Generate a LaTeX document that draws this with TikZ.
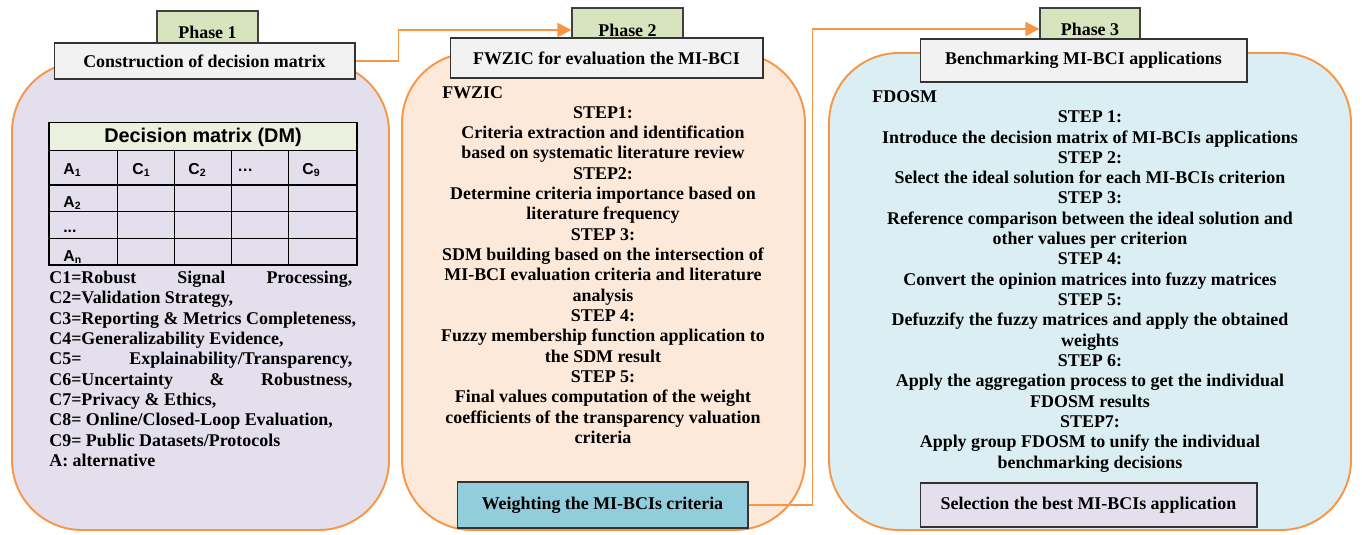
\documentclass[tikz,border=0pt]{standalone}
\usepackage{fontspec}
\setmainfont{Liberation Serif}
\newfontfamily\dmfont{Liberation Sans}
\usetikzlibrary{arrows.meta}

\definecolor{lineorange}{HTML}{F79646}
\definecolor{lavender}{HTML}{E4DFEC}
\definecolor{peach}{HTML}{FDE9D9}
\definecolor{paleblue}{HTML}{DAEEF3}
\definecolor{tabgreen}{HTML}{D7E4BD}
\definecolor{titlegray}{HTML}{F2F2F2}
\definecolor{hdrgreen}{HTML}{EBF1DE}
\definecolor{resultblue}{HTML}{92CDDC}

\tikzset{
  body/.style={font=\fontsize{10.2pt}{11.57pt}\selectfont\bfseries, inner sep=0pt},
  panel/.style={draw=lineorange, line width=1.1pt, rounded corners=1.4cm},
  phasetab/.style={draw=black!75, fill=tabgreen, line width=0.6pt, body},
  titlebox/.style={draw=black!80, fill=titlegray, line width=0.6pt, body},
  cell/.style={font=\dmfont\fontsize{9pt}{10pt}\selectfont\bfseries, inner sep=0pt, anchor=west},
  flow/.style={draw=lineorange, line width=1.1pt, -{Triangle[length=8pt,width=8pt]}},
}

\begin{document}
\begin{tikzpicture}[x=0.02cm, y=-0.02cm]
  \useasboundingbox (0,0) rectangle (1362,534);

  % the three phase panels
  \draw[panel, fill=lavender] (12,62) rectangle (389,530);
  \draw[panel, fill=peach] (402,53) rectangle (805,530);
  \draw[panel, fill=paleblue] (829,53) rectangle (1351,530);

  % tabs and titles
  \node[phasetab, minimum width=2.02cm, minimum height=0.84cm] (p1) at (207.5,32) {Phase 1};
  \node[phasetab, minimum width=2.22cm, minimum height=0.88cm] (p2) at (627.5,30) {Phase 2};
  \node[phasetab, minimum width=2cm, minimum height=0.84cm] (p3) at (1090,29) {Phase 3};
  \node[titlebox, minimum width=6.02cm, minimum height=0.72cm] (t1) at (204.5,61) {Construction of decision matrix};
  \node[titlebox, minimum width=6.26cm, minimum height=0.8cm] (t2) at (606.5,58) {FWZIC for evaluation the MI-BCI};
  \node[titlebox, minimum width=6.54cm, minimum height=0.86cm] (t3) at (1083.5,60.5) {Benchmarking MI-BCI applications};

  % decision matrix
  \fill[hdrgreen] (49,122.7) rectangle (357,150.7);
  \draw[line width=0.6pt] (49,122.7) rectangle (357,265);
  \foreach \y in {150.7,185,211.7,238.3}
    \draw[line width=0.6pt] (49,\y) -- (357,\y);
  \foreach \x in {117.3,174.3,231.3,288.3}
    \draw[line width=0.6pt] (\x,150.7) -- (\x,265);
  \node[font=\dmfont\fontsize{11.3pt}{13pt}\selectfont\bfseries, inner sep=0pt] (dm) at (203,137) {Decision matrix (DM)};
  \node[cell] (a1) at (63,170) {A\textsubscript{1}};
  \node[cell] (c1) at (132,170) {C\textsubscript{1}};
  \node[cell] (c2) at (188,170) {C\textsubscript{2}};
  \node[cell] (cdots) at (237,170) {\dots};
  \node[cell] (c9) at (302,170) {C\textsubscript{9}};
  \node[cell] (a2) at (63,203) {A\textsubscript{2}};
  \node[cell] (adots) at (63,231) {...};
  \node[cell] (an) at (63,257) {A\textsubscript{n}};

  \node[body, align=left, anchor=west] (legend) at (49,369) {%
    \makebox[6.06cm][l]{C1=Robust\hfill Signal\hfill Processing,}\\
    C2=Validation Strategy,\\
    C3=Reporting \& Metrics Completeness,\\
    C4=Generalizability Evidence,\\
    \makebox[6.06cm][l]{C5=\hfill Explainability/Transparency,}\\
    \makebox[6.06cm][l]{C6=Uncertainty\hfill\&\hfill Robustness,}\\
    C7=Privacy \& Ethics,\\
    C8= Online/Closed-Loop Evaluation,\\
    C9= Public Datasets/Protocols\\
    A: alternative};

  % phase 2 steps
  \node[body, anchor=west] (fwzic) at (442,93) {FWZIC};
  \node[body, align=center] (steps2) at (603,275) {STEP1:\\
    Criteria extraction and identification\\
    based on systematic literature review\\
    STEP2:\\
    Determine criteria importance based on\\
    literature frequency\\
    STEP 3:\\
    SDM building based on the intersection of\\
    MI-BCI evaluation criteria and literature\\
    analysis\\
    STEP 4:\\
    Fuzzy membership function application to\\
    the SDM result\\
    STEP 5:\\
    Final values computation of the weight\\
    coefficients of the transparency valuation\\
    criteria};
  \node[titlebox, fill=resultblue, minimum width=5.82cm, minimum height=0.92cm] (b2) at (602.5,505) {Weighting the MI-BCIs criteria};

  % phase 3 steps
  \node[body, anchor=west] (fdosm) at (872,97) {FDOSM};
  \node[body, align=center] (steps3) at (1090,291.5) {STEP 1:\\
    Introduce the decision matrix of MI-BCIs applications\\
    STEP 2:\\
    Select the ideal solution for each MI-BCIs criterion\\
    STEP 3:\\
    Reference comparison between the ideal solution and\\
    other values per criterion\\
    STEP 4:\\
    Convert the opinion matrices into fuzzy matrices\\
    STEP 5:\\
    Defuzzify the fuzzy matrices and apply the obtained\\
    weights\\
    STEP 6:\\
    Apply the aggregation process to get the individual\\
    FDOSM results\\
    STEP7:\\
    Apply group FDOSM to unify the individual\\
    benchmarking decisions};
  \node[titlebox, fill=lavender, minimum width=6.74cm, minimum height=0.88cm] (b3) at (1088.5,505) {Selection the best MI-BCIs application};

  % connectors
  \draw[flow] (t1.east) -- ++(43,0) |- (p2.west);
  \draw[flow] (b2.east) -- ++(64,0) |- (p3.west);
\end{tikzpicture}
\end{document}
